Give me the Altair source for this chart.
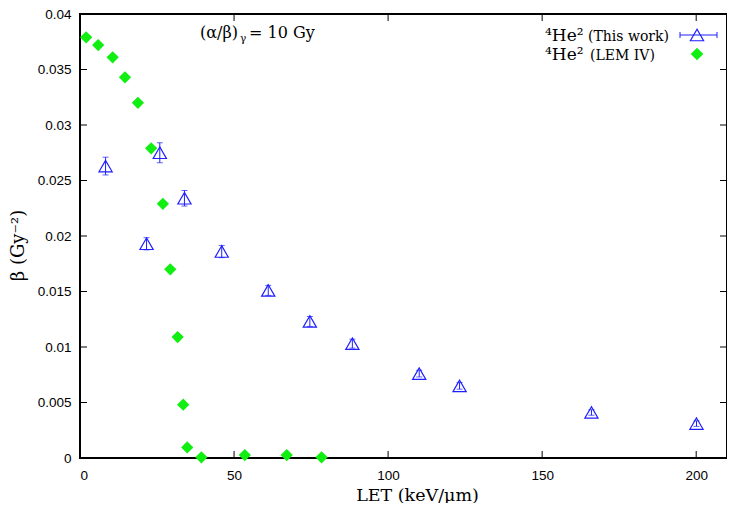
import altair as alt
import pandas as pd

# ---- data ----
work_let = [8.3, 21.6, 25.9, 33.9, 46.0, 61.1, 74.6, 88.4, 110.1, 123.2, 166.0, 200.1]
work_beta = [0.0263, 0.0193, 0.0275, 0.0234, 0.0186, 0.0151, 0.0123, 0.0103, 0.0076, 0.0065, 0.0041, 0.0031]
work_err = [0.0008, 0.00055, 0.0009, 0.0007, 0.00055, 0.00045, 0.00045, 0.0004, 0.0003, 0.0003, 0.00025, 0.00025]

lem_let = [2.0, 5.9, 10.6, 14.6, 18.8, 23.1, 26.9, 29.3, 31.7, 33.5, 34.8, 39.4, 53.5, 67.1, 78.4]
lem_beta = [0.0379, 0.0372, 0.0361, 0.0343, 0.0320, 0.0279, 0.0229, 0.0170, 0.0109, 0.0048,
            0.00095, 0.00006, 0.00027, 0.00027, 0.00006]

x_ticks = [0, 50, 100, 150, 200]
y_ticks = [0, 0.005, 0.01, 0.015, 0.02, 0.025, 0.03, 0.035, 0.04]

W, H = 647, 444
BLUE = "#1f1fff"
GREEN = "#11ee11"
SERIF = "DejaVu Serif"
SANS = "Liberation Sans"

work = pd.DataFrame({"let": work_let, "beta": work_beta, "err": work_err})
work["lo"] = work["beta"] - work["err"]
work["hi"] = work["beta"] + work["err"]
lem = pd.DataFrame({"let": lem_let, "beta": lem_beta})
xt = pd.DataFrame({"v": x_ticks})
yt = pd.DataFrame({"v": y_ticks})
one = pd.DataFrame({"k": [0]})

xscale = alt.Scale(domain=[0, 210], nice=False)
yscale = alt.Scale(domain=[0, 0.04], nice=False)

xaxis = alt.Axis(title="LET (keV/μm)", values=x_ticks, grid=False, ticks=False, tickSize=0,
                 domain=False, labelFont=SANS, labelFontSize=13.5, labelColor="black",
                 labelPadding=10, titleFont=SERIF, titleFontSize=17.5, titleFontWeight="normal",
                 titleColor="black", titleX=337, titleY=42, titleBaseline="alphabetic")
yaxis = alt.Axis(title="β (Gy⁻²)", values=y_ticks, format="~g", grid=False, ticks=False, tickSize=0,
                 domain=False, labelFont=SANS, labelFontSize=13.5, labelColor="black",
                 labelPadding=9, titleFont=SERIF, titleFontSize=18, titleFontWeight="normal",
                 titleColor="black", titleX=-62, titleY=231, titleBaseline="middle")

base_x = alt.X("let:Q", scale=xscale, axis=xaxis)
base_y = alt.Y("beta:Q", scale=yscale, axis=yaxis)

# error bars
err_rule = alt.Chart(work).mark_rule(color=BLUE, strokeWidth=1).encode(
    x=alt.X("let:Q", scale=xscale), y=alt.Y("lo:Q", scale=yscale), y2="hi:Q")
cap_lo = alt.Chart(work).mark_tick(color=BLUE, orient="horizontal", size=6, thickness=1).encode(
    x=alt.X("let:Q", scale=xscale), y=alt.Y("lo:Q", scale=yscale))
cap_hi = alt.Chart(work).mark_tick(color=BLUE, orient="horizontal", size=6, thickness=1).encode(
    x=alt.X("let:Q", scale=xscale), y=alt.Y("hi:Q", scale=yscale))
tri = alt.Chart(work).mark_point(shape="triangle-up", size=175, color=BLUE, filled=False,
                                 strokeWidth=1.2, opacity=1).encode(x=base_x, y=base_y)
dia = alt.Chart(lem).mark_point(shape="diamond", size=150, color=GREEN, filled=True,
                                opacity=1).encode(x=alt.X("let:Q", scale=xscale),
                                                  y=alt.Y("beta:Q", scale=yscale))

# inward, mirrored ticks
TL = 7
xt_bot = alt.Chart(xt).mark_rule(color="black", strokeWidth=1).encode(
    x=alt.X("v:Q", scale=xscale), y=alt.value(H), y2=alt.value(H - TL))
xt_top = alt.Chart(xt).mark_rule(color="black", strokeWidth=1).encode(
    x=alt.X("v:Q", scale=xscale), y=alt.value(0), y2=alt.value(TL))
yt_left = alt.Chart(yt).mark_rule(color="black", strokeWidth=1).encode(
    y=alt.Y("v:Q", scale=yscale), x=alt.value(0), x2=alt.value(TL))
yt_right = alt.Chart(yt).mark_rule(color="black", strokeWidth=1).encode(
    y=alt.Y("v:Q", scale=yscale), x=alt.value(W), x2=alt.value(W - TL))


def txt(s, x, y, size):
    return alt.Chart(one).mark_text(text=s, font=SERIF, fontSize=size, align="left",
                                    baseline="alphabetic", color="black").encode(
        x=alt.value(x), y=alt.value(y))


# annotation (α/β)γ = 10 Gy
ann = [txt("(α/β)", 120, 24, 16), txt("γ", 160, 28, 10.5), txt("= 10 Gy", 169, 24, 16)]

# legend (gnuplot style: text, then sample)
leg = [
    txt("⁴He²", 465, 27, 17), txt("(This work)", 508, 27, 14),
    txt("⁴He²", 465, 46, 17), txt("(LEM IV)", 510, 46, 14),
    alt.Chart(one).mark_rule(color=BLUE, strokeWidth=1).encode(
        x=alt.value(600), x2=alt.value(637), y=alt.value(21)),
    alt.Chart(one).mark_rule(color=BLUE, strokeWidth=1).encode(
        x=alt.value(600), y=alt.value(18), y2=alt.value(24)),
    alt.Chart(one).mark_rule(color=BLUE, strokeWidth=1).encode(
        x=alt.value(637), y=alt.value(18), y2=alt.value(24)),
    alt.Chart(one).mark_point(shape="triangle-up", size=175, color=BLUE, filled=False,
                              strokeWidth=1.2, opacity=1).encode(x=alt.value(617), y=alt.value(21)),
    alt.Chart(one).mark_point(shape="diamond", size=160, color=GREEN, filled=True,
                              opacity=1).encode(x=alt.value(617), y=alt.value(40)),
]

chart = alt.layer(
    tri, err_rule, cap_lo, cap_hi, dia,
    xt_bot, xt_top, yt_left, yt_right,
    *ann, *leg
).properties(
    width=W, height=H,
    autosize=alt.AutoSizeParams(type="none"),
    padding={"left": 72, "top": 6, "right": 0, "bottom": 45},
    background="white",
).configure_view(stroke="black", strokeWidth=2)

chart.save("out.html", embed_options={"renderer": "svg", "actions": False})
